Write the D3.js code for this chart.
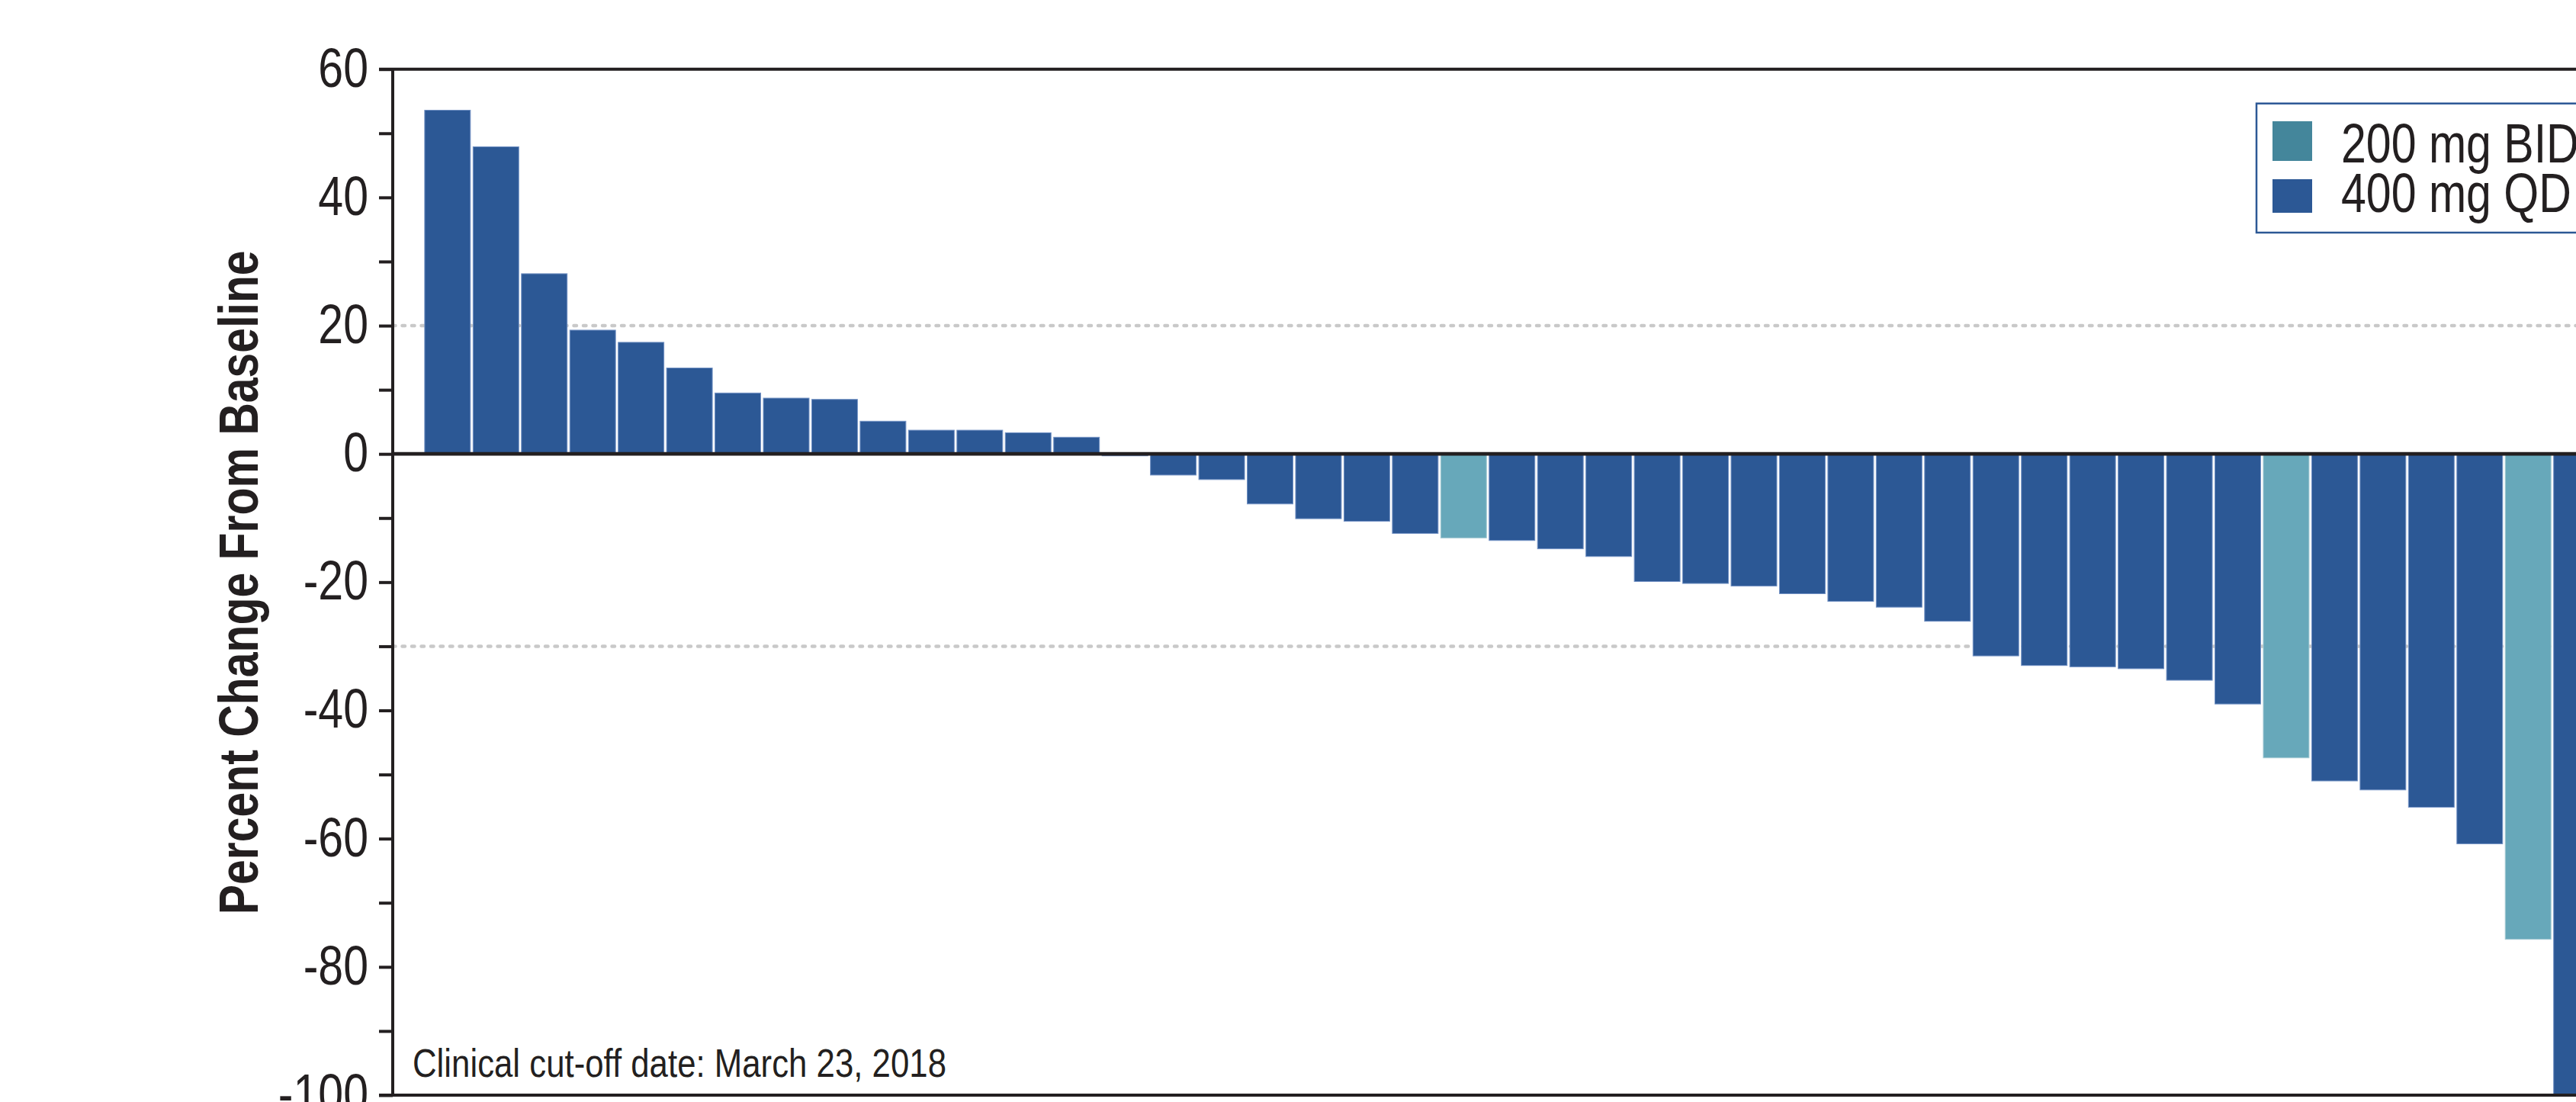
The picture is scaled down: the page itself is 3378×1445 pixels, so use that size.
<!DOCTYPE html>
<html>
<head>
<meta charset="utf-8">
<script src="https://cdn.jsdelivr.net/npm/d3@7"></script>
<style>
  html, body { margin: 0; padding: 0; background: #ffffff; overflow: hidden; }
  svg { display: block; }
  text { font-family: "Liberation Sans", Arial, Helvetica, sans-serif; fill: #231f20; }
</style>
</head>
<body>
<svg id="chart" width="3378" height="1445"></svg>
<script>
// Best percent change in tumour size from baseline, one bar per patient (sorted)
const patients = d3.range(1, 46);
const pctChange = [
  53.6, 47.9, 28.1, 19.3, 17.4, 13.4, 9.5, 8.7, 8.5, 5.1,
  3.7, 3.7, 3.3, 2.6, -0.3, -3.3, -4.0, -7.8, -10.1, -10.5,
  -12.4, -13.1, -13.5, -14.8, -16.0, -19.9, -20.2, -20.6, -21.8, -23.0,
  -23.9, -26.1, -31.5, -33.0, -33.2, -33.5, -35.3, -39.0, -47.4, -51.0,
  -52.4, -55.1, -60.8, -75.7, -100
];
const dose = [
  "QD", "QD", "QD", "QD", "QD", "QD", "QD", "QD", "QD", "QD",
  "QD", "QD", "QD", "QD", "QD", "QD", "QD", "QD", "QD", "QD",
  "QD", "BID", "QD", "QD", "QD", "QD", "QD", "QD", "QD", "QD",
  "QD", "QD", "QD", "QD", "QD", "QD", "QD", "QD", "BID", "QD",
  "QD", "QD", "QD", "BID", "QD"
];
const legendLabels = ["200 mg BID", "400 mg QD"];
const legendKeys = ["BID", "QD"];
const yLabelTicks = [60, 40, 20, 0, -20, -40, -60, -80, -100];
const yAllTicks = d3.range(-100, 61, 10);
const referenceLines = [20, -30];
const axisTitle = "Percent Change From Baseline";
const footnote = "Clinical cut-off date: March 23, 2018";

const barFill = { QD: "#2c5895", BID: "#67a8ba" };
const barEdge = { QD: "#7392c4", BID: "#a3c9d3" };
const swatchFill = { QD: "#2c5895", BID: "#44869b" };

const data = patients.map((p, i) => ({ id: p, value: pctChange[i], dose: dose[i] }));

const svg = d3.select("#chart");
const axisX = 515;
const yTop = 90.7, yBottom = 1436;

// condensed look: squeeze each text horizontally around its anchor
const NARROW = 0.82;
function condense(sel) {
  sel.each(function () {
    const len = this.getComputedTextLength();
    d3.select(this)
      .attr("textLength", len * NARROW)
      .attr("lengthAdjust", "spacingAndGlyphs");
  });
}

const y = d3.scaleLinear().domain([-100, 60]).range([yBottom, yTop]);

const step = 63.45, padIn = 0.055, padOut = 0.66;
const x = d3.scaleBand()
  .domain(patients)
  .range([axisX, axisX + step * (patients.length - padIn + 2 * padOut)])
  .paddingInner(padIn)
  .paddingOuter(padOut);
const xRight = x.range()[1] + 200;

// reference lines behind bars
svg.append("g").selectAll("line").data(referenceLines).join("line")
  .attr("x1", axisX).attr("x2", xRight)
  .attr("y1", d => y(d)).attr("y2", d => y(d))
  .attr("stroke", "#c9c9c9").attr("stroke-width", 4.5)
  .attr("stroke-linecap", "round")
  .attr("stroke-dasharray", "3.5 9");

// bars
svg.append("g").selectAll("rect").data(data).join("rect")
  .attr("x", d => x(d.id))
  .attr("width", x.bandwidth())
  .attr("y", d => Math.min(y(d.value), y(0)))
  .attr("height", d => Math.abs(y(d.value) - y(0)))
  .attr("fill", d => barFill[d.dose])
  .attr("stroke", d => barEdge[d.dose])
  .attr("stroke-width", 1);

// frame lines at top and bottom of the value range, zero baseline
svg.append("line")
  .attr("x1", axisX - 18).attr("x2", xRight)
  .attr("y1", y(60)).attr("y2", y(60))
  .attr("stroke", "#231f20").attr("stroke-width", 4);
svg.append("line")
  .attr("x1", axisX - 18).attr("x2", xRight)
  .attr("y1", y(-100)).attr("y2", y(-100))
  .attr("stroke", "#231f20").attr("stroke-width", 4);
svg.append("line")
  .attr("x1", axisX).attr("x2", xRight)
  .attr("y1", y(0)).attr("y2", y(0))
  .attr("stroke", "#231f20").attr("stroke-width", 4.8);

// y axis with a tick every 10 and labels every 20
const yAxis = d3.axisLeft(y)
  .tickValues(yAllTicks)
  .tickSize(18)
  .tickPadding(14)
  .tickFormat(d => yLabelTicks.includes(d) ? String(d) : "");
const gy = svg.append("g").attr("transform", `translate(${axisX},0)`).call(yAxis);
gy.select(".domain")
  .attr("d", `M0,${yTop}V${yBottom}`)
  .attr("stroke", "#231f20").attr("stroke-width", 4);
gy.selectAll(".tick line").attr("stroke", "#231f20").attr("stroke-width", 4);
gy.selectAll(".tick text")
  .attr("font-size", 72)
  .attr("dy", "0.31em")
  .attr("fill", "#231f20")
  .style("font-family", '"Liberation Sans", Arial, Helvetica, sans-serif')
  .filter(d => yLabelTicks.includes(d))
  .call(condense);

// axis title
svg.append("text")
  .attr("transform", `translate(338,${(yTop + yBottom) / 2 + 0.5}) rotate(-90)`)
  .attr("text-anchor", "middle")
  .attr("font-size", 72)
  .attr("font-weight", "bold")
  .attr("textLength", 871)
  .attr("lengthAdjust", "spacingAndGlyphs")
  .text(axisTitle);

// footnote inside the plot
svg.append("text")
  .attr("x", 541).attr("y", 1411.5)
  .attr("font-size", 52)
  .attr("textLength", 700)
  .attr("lengthAdjust", "spacingAndGlyphs")
  .text(footnote);

// legend
const legend = svg.append("g");
legend.append("rect")
  .attr("x", 2959).attr("y", 135.7)
  .attr("width", 700).attr("height", 169.3)
  .attr("fill", "#ffffff")
  .attr("stroke", "#2c5895").attr("stroke-width", 2.5);
const swatchY = [159, 235], swatchH = [52, 44], textY = [212.7, 278.3];
legendKeys.forEach((k, i) => {
  legend.append("rect")
    .attr("x", 2980).attr("y", swatchY[i])
    .attr("width", 52).attr("height", swatchH[i])
    .attr("fill", swatchFill[k]);
  legend.append("text")
    .attr("x", 3070).attr("y", textY[i])
    .attr("font-size", 72)
    .text(legendLabels[i])
    .call(condense);
});
</script>
</body>
</html>
